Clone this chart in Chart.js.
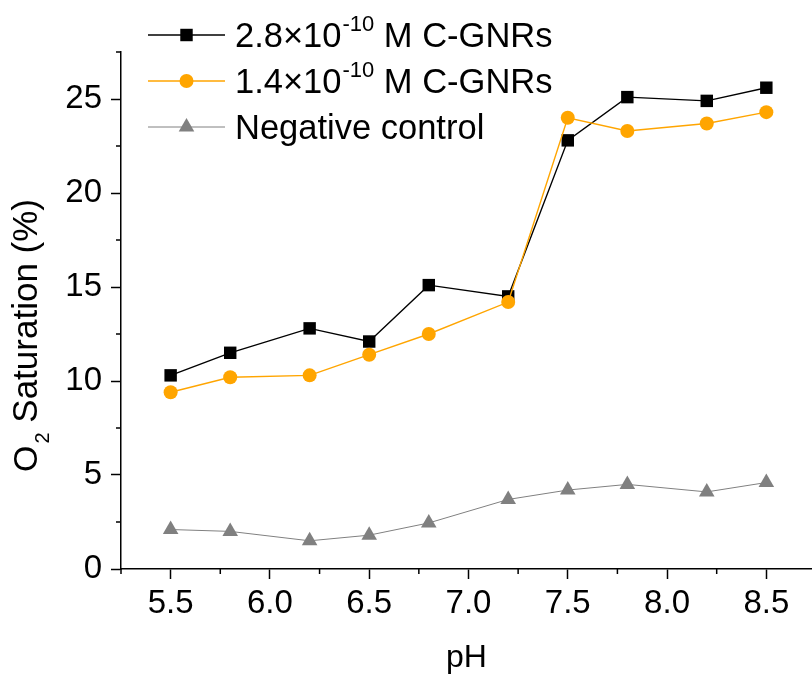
<!DOCTYPE html>
<html>
<head>
<meta charset="utf-8">
<script src="https://cdn.jsdelivr.net/npm/chart.js@4.4.0/dist/chart.umd.min.js"></script>
<style>
  html, body { margin: 0; padding: 0; background: #fff; }
  #wrap { width: 812px; height: 677px; }
</style>
</head>
<body>
<div id="wrap"><canvas id="o2Chart" width="812" height="677"></canvas></div>
<script>
// values
const phValues   = [5.5, 5.8, 6.2, 6.5, 6.8, 7.2, 7.5, 7.8, 8.2, 8.5];
const highConc   = [10.3, 11.5, 12.8, 12.1, 15.1, 14.5, 22.8, 25.1, 24.9, 25.6];
const lowConc    = [9.4, 10.2, 10.3, 11.4, 12.5, 14.2, 24.0, 23.3, 23.7, 24.3];
const negControl = [2.1, 2.0, 1.5, 1.8, 2.45, 3.7, 4.2, 4.5, 4.1, 4.6];

// legend text: [main, superscript, rest]
const legendLabels = [
  ['2.8\u00d710', '-10', ' M C-GNRs'],
  ['1.4\u00d710', '-10', ' M C-GNRs'],
  ['Negative control', '', '']
];

const xMin = 5.25, xMax = 8.73, xStep = 0.25, xMajor = 0.5;
const yMin = 0, yMax = 27.5, yStep = 2.5, yMajor = 5;

const FONT = 'Arial, "Liberation Sans", sans-serif';

function isMajor(v, every) {
  return Math.abs(v / every - Math.round(v / every)) < 1e-6;
}

function toPoints(ys) {
  return phValues.map((x, i) => ({ x: x, y: ys[i] }));
}

function stepTicks(lo, hi, step) {
  const out = [];
  for (let v = lo; v <= hi + 1e-9; v += step) out.push({ value: +v.toFixed(4) });
  return out;
}

function marker(ctx, style, r, x, y) {
  if (Chart.helpers && Chart.helpers.drawPoint) {
    Chart.helpers.drawPoint(ctx, { pointStyle: style, radius: r, rotation: 0, borderWidth: 0 }, x, y);
    return;
  }
  ctx.beginPath();
  ctx.arc(x, y, r, 0, Math.PI * 2);
  ctx.fill();
}

const axisExtras = {
  id: 'axisExtras',
  afterDraw(chart) {
    const ctx = chart.ctx;
    const xs = chart.scales.x, ys = chart.scales.y;
    ctx.save();

    // short minor ticks
    ctx.strokeStyle = '#000';
    ctx.lineWidth = 1.5;
    ctx.beginPath();
    xs.ticks.forEach(t => {
      if (isMajor(t.value, xMajor)) return;
      const px = xs.getPixelForValue(t.value);
      ctx.moveTo(px, xs.top);
      ctx.lineTo(px, xs.top + 5);
    });
    ys.ticks.forEach(t => {
      if (isMajor(t.value, yMajor)) return;
      const py = ys.getPixelForValue(t.value);
      ctx.moveTo(ys.right, py);
      ctx.lineTo(ys.right - 5, py);
    });
    ctx.stroke();

    // y title with subscript
    ctx.save();
    ctx.translate(37, 472);
    ctx.rotate(-Math.PI / 2);
    ctx.fillStyle = '#000';
    ctx.textBaseline = 'alphabetic';
    ctx.textAlign = 'left';
    ctx.font = '34px ' + FONT;
    let u = 0;
    ctx.fillText('O', u, 0);
    u += ctx.measureText('O').width + 2;
    ctx.font = '20px ' + FONT;
    ctx.fillText('2', u, 12);
    u += ctx.measureText('2').width;
    ctx.font = '35px ' + FONT;
    ctx.fillText(' Saturation (%)', u, 0);
    ctx.restore();

    // legend
    chart.data.datasets.forEach((ds, i) => {
      const rowY = 35 + i * 46;
      ctx.strokeStyle = ds.borderColor;
      ctx.lineWidth = ds.borderWidth;
      ctx.beginPath();
      ctx.moveTo(148, rowY);
      ctx.lineTo(225, rowY);
      ctx.stroke();
      ctx.fillStyle = ds.backgroundColor;
      marker(ctx, ds.pointStyle, ds.pointRadius, 186.5, rowY);

      const parts = legendLabels[i];
      const base = rowY + 12;
      ctx.fillStyle = '#000';
      ctx.textBaseline = 'alphabetic';
      ctx.textAlign = 'left';
      let tx = 235;
      ctx.font = '34.5px ' + FONT;
      ctx.fillText(parts[0], tx, base);
      tx += ctx.measureText(parts[0]).width + 1;
      if (parts[1]) {
        ctx.font = '22px ' + FONT;
        ctx.fillText(parts[1], tx, base - 16);
        tx += ctx.measureText(parts[1]).width;
      }
      if (parts[2]) {
        ctx.font = '34.5px ' + FONT;
        ctx.fillText(parts[2], tx, base);
      }
    });

    ctx.restore();
  }
};

const ctx = document.getElementById('o2Chart').getContext('2d');
const o2Chart = new Chart(ctx, {
  type: 'line',
  data: {
    datasets: [
      {
        label: '2.8x10^-10 M C-GNRs',
        data: toPoints(highConc),
        borderColor: '#000000',
        backgroundColor: '#000000',
        borderWidth: 1.4,
        pointStyle: 'rect',
        pointRadius: 8.8,
        pointBorderWidth: 0,
        tension: 0,
        order: 1
      },
      {
        label: '1.4x10^-10 M C-GNRs',
        data: toPoints(lowConc),
        borderColor: '#FFA500',
        backgroundColor: '#FFA500',
        borderWidth: 1.4,
        pointStyle: 'circle',
        pointRadius: 7,
        pointBorderWidth: 0,
        tension: 0,
        order: 0
      },
      {
        label: 'Negative control',
        data: toPoints(negControl),
        borderColor: '#808080',
        backgroundColor: '#808080',
        borderWidth: 1,
        pointStyle: 'triangle',
        pointRadius: 9,
        pointBorderWidth: 0,
        tension: 0,
        order: 2
      }
    ]
  },
  options: {
    responsive: false,
    animation: false,
    devicePixelRatio: 1,
    layout: { autoPadding: false, padding: { top: 52, left: 0, right: 0, bottom: 0 } },
    elements: { point: { hoverRadius: 0 } },
    clip: false,
    plugins: {
      legend: { display: false },
      tooltip: { enabled: false }
    },
    scales: {
      x: {
        type: 'linear',
        min: xMin,
        max: xMax,
        afterFit(s) { s.height = 108; s.paddingLeft = 0; s.paddingRight = 0; },
        afterBuildTicks(s) { s.ticks = stepTicks(xMin, xMax, xStep); },
        ticks: {
          stepSize: xStep,
          autoSkip: false,
          maxRotation: 0,
          padding: 5,
          color: '#000',
          font: { size: 33, family: FONT },
          callback: v => isMajor(v, xMajor) ? v.toFixed(1) : ''
        },
        grid: {
          drawOnChartArea: false,
          tickLength: 10,
          tickWidth: 1.5,
          tickColor: c => (c.tick && isMajor(c.tick.value, xMajor)) ? '#000' : 'rgba(0,0,0,0)'
        },
        border: { color: '#000', width: 1.5 },
        title: {
          display: true,
          text: 'pH',
          color: '#000',
          font: { size: 32, family: FONT },
          padding: { top: 0, bottom: 0 }
        }
      },
      y: {
        min: yMin,
        max: yMax,
        afterFit(s) { s.width = 121; s.paddingTop = 0; s.paddingBottom = 0; },
        afterBuildTicks(s) { s.ticks = stepTicks(yMin, yMax, yStep); },
        ticks: {
          stepSize: yStep,
          autoSkip: false,
          padding: 9,
          color: '#000',
          font: { size: 33, family: FONT },
          callback: v => isMajor(v, yMajor) ? String(v) : ''
        },
        grid: {
          drawOnChartArea: false,
          tickLength: 10,
          tickWidth: 1.5,
          tickColor: c => (c.tick && isMajor(c.tick.value, yMajor)) ? '#000' : 'rgba(0,0,0,0)'
        },
        border: { color: '#000', width: 1.5 }
      }
    }
  },
  plugins: [axisExtras]
});
</script>
</body>
</html>
